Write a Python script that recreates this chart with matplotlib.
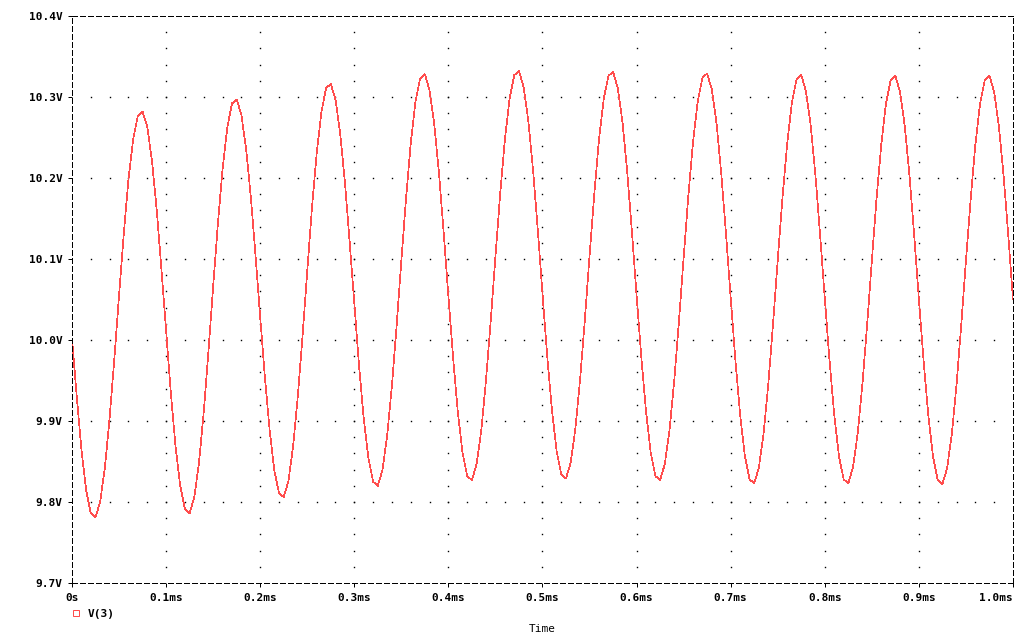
# -*- coding: utf-8 -*-
"""
PSpice 瞬态仿真波形 V(3) 的重绘
"""
import matplotlib
matplotlib.use('Agg')
import matplotlib.pyplot as plt
import numpy as np
from matplotlib.lines import Line2D

# 时间轴 0 ~ 1.0ms，每 0.005ms 读一个点
t_ms = np.linspace(0.0, 1.0, 201)

# V(3) 电压值 (V)，每行一个周期 (0.1ms)
v3 = [
    10.002, 9.931, 9.865, 9.815, 9.786, 9.781, 9.801, 9.843, 9.904, 9.977,
    10.055, 10.131, 10.198, 10.248, 10.277, 10.282, 10.263, 10.221, 10.161, 10.088,
    10.011, 9.935, 9.869, 9.820, 9.791, 9.786, 9.806, 9.849, 9.911, 9.986,
    10.066, 10.143, 10.211, 10.262, 10.292, 10.297, 10.278, 10.236, 10.177, 10.105,
    10.028, 9.954, 9.889, 9.839, 9.811, 9.806, 9.826, 9.869, 9.931, 10.005,
    10.085, 10.163, 10.230, 10.281, 10.311, 10.316, 10.297, 10.255, 10.195, 10.122,
    10.045, 9.969, 9.903, 9.854, 9.825, 9.820, 9.840, 9.883, 9.944, 10.018,
    10.098, 10.175, 10.243, 10.294, 10.323, 10.328, 10.308, 10.266, 10.206, 10.132,
    10.054, 9.978, 9.911, 9.861, 9.832, 9.827, 9.847, 9.889, 9.951, 10.024,
    10.103, 10.180, 10.247, 10.298, 10.327, 10.332, 10.312, 10.270, 10.209, 10.136,
    10.057, 9.980, 9.914, 9.863, 9.834, 9.829, 9.849, 9.891, 9.952, 10.025,
    10.104, 10.180, 10.247, 10.297, 10.326, 10.331, 10.311, 10.269, 10.208, 10.134,
    10.055, 9.979, 9.912, 9.861, 9.832, 9.827, 9.847, 9.889, 9.950, 10.023,
    10.102, 10.178, 10.245, 10.295, 10.324, 10.329, 10.309, 10.267, 10.205, 10.131,
    10.052, 9.975, 9.908, 9.857, 9.828, 9.823, 9.843, 9.885, 9.946, 10.020,
    10.099, 10.175, 10.242, 10.293, 10.322, 10.327, 10.307, 10.265, 10.204, 10.130,
    10.051, 9.975, 9.908, 9.857, 9.828, 9.823, 9.843, 9.885, 9.946, 10.019,
    10.098, 10.175, 10.241, 10.292, 10.321, 10.326, 10.306, 10.264, 10.203, 10.129,
    10.050, 9.974, 9.907, 9.856, 9.827, 9.822, 9.842, 9.884, 9.945, 10.019,
    10.098, 10.174, 10.241, 10.292, 10.321, 10.326, 10.306, 10.264, 10.203, 10.129,
    10.050,
]

x_ticks = [0.0, 0.1, 0.2, 0.3, 0.4, 0.5, 0.6, 0.7, 0.8, 0.9, 1.0]
x_tick_labels = ['0s', '0.1ms', '0.2ms', '0.3ms', '0.4ms', '0.5ms',
                 '0.6ms', '0.7ms', '0.8ms', '0.9ms', '1.0ms']
y_ticks = [9.7, 9.8, 9.9, 10.0, 10.1, 10.2, 10.3, 10.4]
y_tick_labels = ['9.7V', '9.8V', '9.9V', '10.0V', '10.1V', '10.2V', '10.3V', '10.4V']

trace_color = '#ff4d4d'
px = 0.72  # 1 像素对应的磅值

plt.rcParams['font.family'] = ['DejaVu Sans Mono']
plt.rcParams['font.weight'] = 'bold'

fig = plt.figure(figsize=(10.2, 6.36), dpi=100)
ax = fig.add_axes([72 / 1020, 53 / 636, 941 / 1020, 567 / 636])

# 网格：只在主刻度线上画点，点距 0.02
for xv in x_ticks[1:-1]:
    ys = np.arange(9.72, 10.39, 0.02)
    ax.plot([xv] * len(ys), ys, linestyle='none', marker='s', markersize=1.0,
            mew=0, color='black', antialiased=False)
for yv in y_ticks[1:-1]:
    xs = np.arange(0.02, 0.99, 0.02)
    ax.plot(xs, [yv] * len(xs), linestyle='none', marker='s', markersize=1.0,
            mew=0, color='black', antialiased=False)

ax.plot(t_ms, v3, color=trace_color, linewidth=0.5, antialiased=False)

ax.set_xlim(0, 1.0)
ax.set_ylim(9.7, 10.4)
ax.set_xticks(x_ticks)
ax.set_xticklabels(x_tick_labels)
ax.set_yticks(y_ticks)
ax.set_yticklabels(y_tick_labels)
ax.tick_params(direction='out', length=3, width=px, labelsize=8, pad=4)
# 最后一个刻度标签靠右对齐，避免被裁掉
ax.get_xticklabels()[-1].set_horizontalalignment('right')
ax.get_xticklabels()[-1].set_x(1.0)

# 虚线边框
for sp in ax.spines.values():
    sp.set_linestyle((0, (5, 3)))
    sp.set_linewidth(px)

ax.set_xlabel('Time', fontsize=8, labelpad=15)

# 图例：左下角小方框 + V(3)
handle = Line2D([], [], linestyle='none', marker='s', markersize=4,
                markerfacecolor='none', markeredgecolor=trace_color, markeredgewidth=px)
fig.legend([handle], ['V(3)'], loc='center left', bbox_to_anchor=(72 / 1020, 1 - 614 / 636),
           frameon=False, fontsize=8, handlelength=0.8, handletextpad=0.6,
           borderpad=0, borderaxespad=0)

fig.savefig('out.png', dpi=100)
